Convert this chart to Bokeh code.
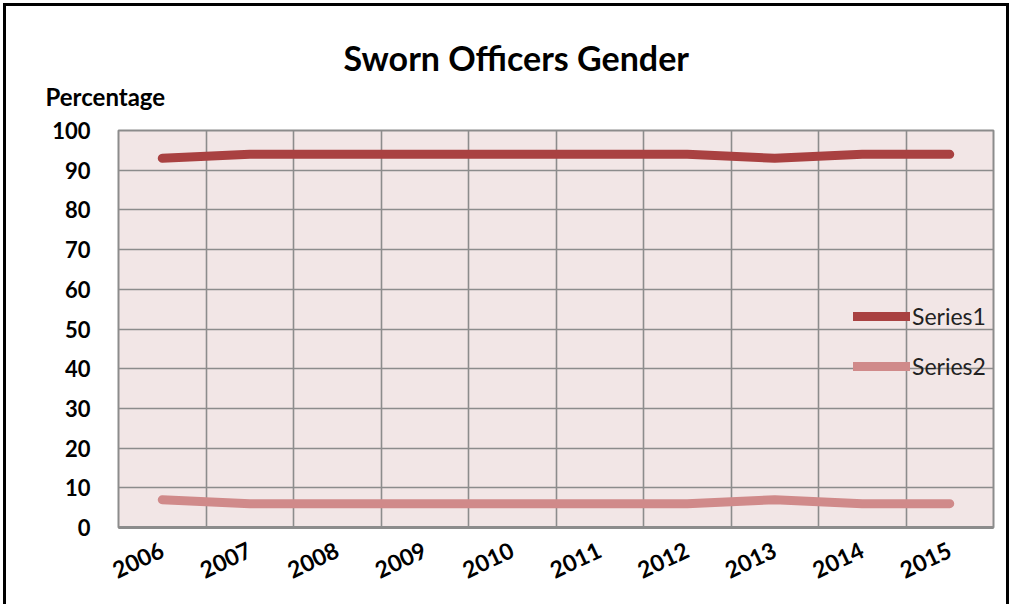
from bokeh.plotting import figure
from bokeh.models import FixedTicker, Legend, LegendItem, Range1d, Title
from bokeh.embed import file_html
from bokeh.resources import INLINE

years = ["2006", "2007", "2008", "2009", "2010", "2011", "2012", "2013", "2014", "2015"]
series1 = [93, 94, 94, 94, 94, 94, 94, 93, 94, 94]
series2 = [7, 6, 6, 6, 6, 6, 6, 7, 6, 6]
y_ticks = [0, 10, 20, 30, 40, 50, 60, 70, 80, 90, 100]

xs = [i + 0.5 for i in range(len(years))]
FONT = "Lato"

p = figure(width=1006, height=601, output_backend="svg", toolbar_location=None,
           x_range=Range1d(0, len(years)), y_range=Range1d(0, 100),
           min_border_left=112, min_border_right=19, min_border_top=124, min_border_bottom=80)
p.styles = {"border-left": "3px solid black", "border-top": "3px solid black",
            "border-right": "3px solid black", "margin-left": "3px", "margin-top": "3px"}
p.background_fill_color = "#f2e6e6"
p.border_fill_color = "white"
p.outline_line_color = "#8c8c8c"
p.outline_line_width = 2

r1 = p.line(xs, series1, line_color="#a94141", line_width=9, line_cap="round", line_join="round")
r2 = p.line(xs, series2, line_color="#d08a8a", line_width=9, line_cap="round", line_join="round")

# axes
p.xaxis.ticker = FixedTicker(ticks=xs)
p.xaxis.major_label_overrides = {x: y for x, y in zip(xs, years)}
p.xaxis.major_label_orientation = 0.44
p.xaxis.major_tick_line_color = None
p.xaxis.minor_tick_line_color = None
p.xaxis.axis_line_color = "#8c8c8c"
p.xaxis.axis_line_width = 3
p.xaxis.major_label_text_font = FONT
p.xaxis.major_label_text_font_style = "bold"
p.xaxis.major_label_text_font_size = "23px"
p.xaxis.major_label_text_color = "black"
p.xaxis.major_label_standoff = 15

p.yaxis.ticker = FixedTicker(ticks=y_ticks)
p.yaxis.major_tick_line_color = None
p.yaxis.minor_tick_line_color = None
p.yaxis.axis_line_color = None
p.yaxis.major_label_text_font = FONT
p.yaxis.major_label_text_font_style = "bold"
p.yaxis.major_label_text_font_size = "22px"
p.yaxis.major_label_text_color = "black"
p.yaxis.major_label_standoff = 22

p.xgrid.ticker = FixedTicker(ticks=list(range(1, len(years))))
p.ygrid.ticker = FixedTicker(ticks=y_ticks[1:-1])
for g in (p.xgrid, p.ygrid):
    g.grid_line_color = "#8c8c8c"
    g.grid_line_width = 1.6
    g.grid_line_alpha = 1

# legend
legend = Legend(items=[LegendItem(label="Series1", renderers=[r1]),
                       LegendItem(label="Series2", renderers=[r2])],
                location=(735, 147), padding=0, margin=0, spacing=22,
                glyph_width=57, glyph_height=28, label_height=28, label_standoff=2,
                background_fill_alpha=0, border_line_color=None,
                label_text_font=FONT, label_text_font_size="23px", label_text_color="#222222")
p.add_layout(legend, "center")

# y label (closest to frame) and main title
p.add_layout(Title(text="Percentage", align="left", offset=-73, standoff=40,
                   text_font=FONT, text_font_style="bold", text_font_size="24px",
                   text_color="black"), "above")
p.add_layout(Title(text="Sworn Officers Gender", align="left", offset=225, standoff=-36,
                   text_font=FONT, text_font_style="bold", text_font_size="34px",
                   text_color="black"), "above")

open("out.html", "w").write(file_html(p, INLINE))
